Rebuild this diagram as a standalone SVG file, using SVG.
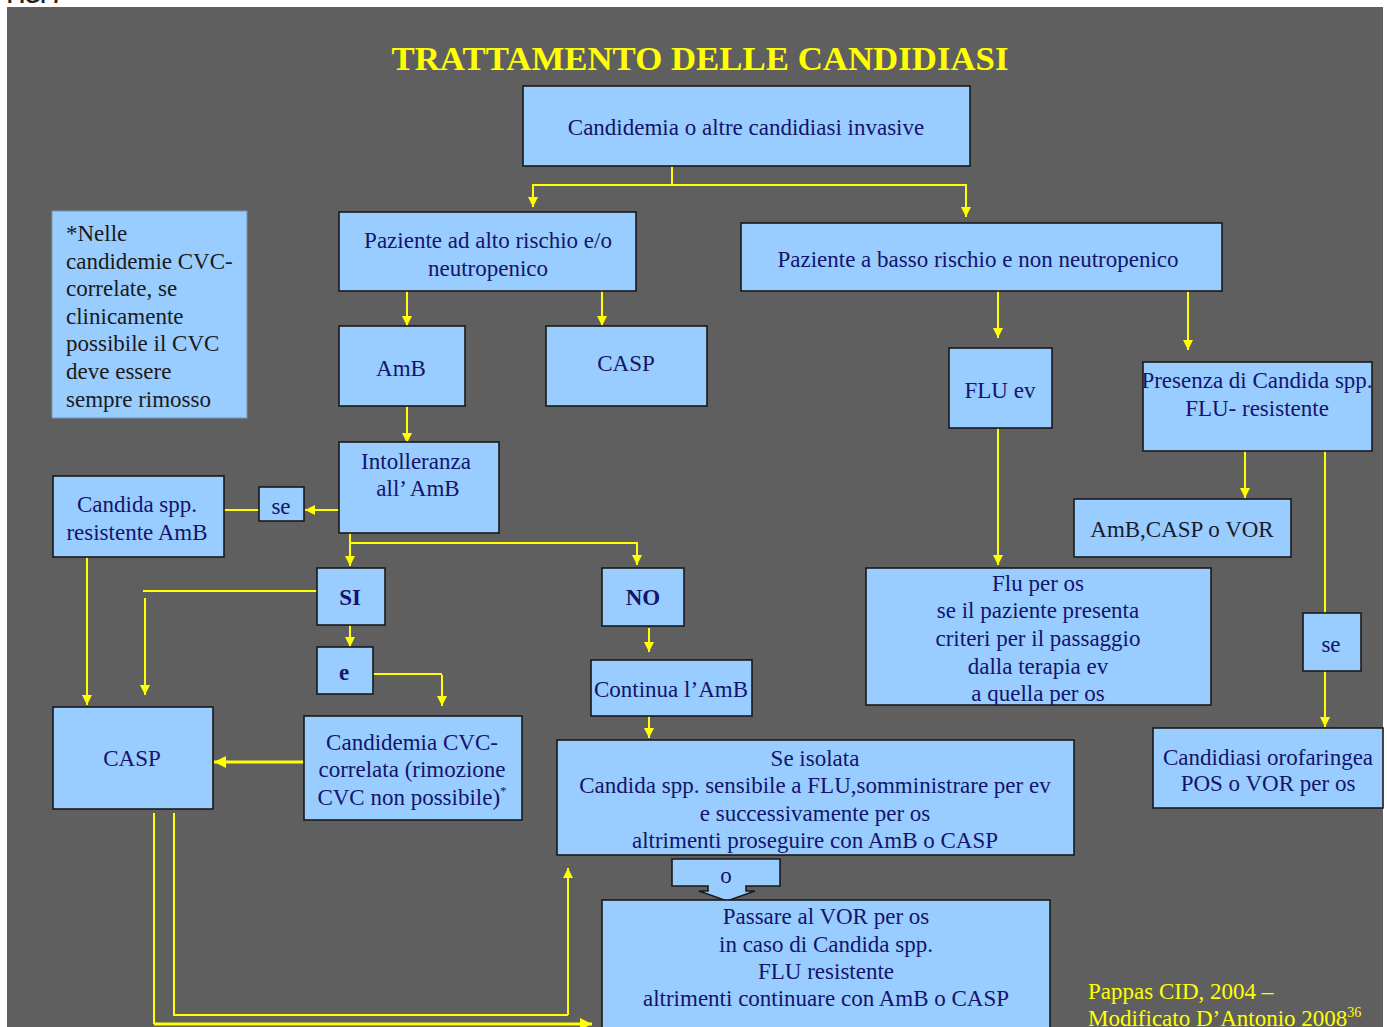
<svg xmlns="http://www.w3.org/2000/svg" width="1387" height="1027" viewBox="0 0 1387 1027">
<defs>
<marker id="ah" viewBox="0 0 10 10" refX="10" refY="5" markerWidth="5" markerHeight="5" orient="auto" markerUnits="strokeWidth">
<path d="M0,0 L10,5 L0,10 Z" fill="#ffff00"/>
</marker>
<marker id="ah2" viewBox="0 0 10 10" refX="10" refY="5" markerWidth="4" markerHeight="4" orient="auto" markerUnits="strokeWidth">
<path d="M0,0 L10,5 L0,10 Z" fill="#ffff00"/>
</marker>
<style>
.b{fill:#99ccff;stroke:#1a1a1a;stroke-width:1.6}
.n{fill:#99ccff;stroke:#7a94ad;stroke-width:1}
.t{font-family:"Liberation Serif","Times New Roman",serif;font-size:23px;fill:#14146b;text-anchor:middle}
.tb{font-weight:bold}
.k{fill:#1a1a2a}
.nt{font-family:"Liberation Serif","Times New Roman",serif;font-size:23px;fill:#1a1a1a}
.c{fill:none;stroke:#ffff00;stroke-width:2}
.ca{fill:none;stroke:#ffff00;stroke-width:2;marker-end:url(#ah)}
.cw{fill:none;stroke:#ffff00;stroke-width:3;marker-end:url(#ah2)}
.y{font-family:"Liberation Serif","Times New Roman",serif;fill:#ffff00}
</style>
</defs>
<rect x="0" y="0" width="1387" height="1027" fill="#ffffff"/>
<text x="7" y="3" font-family="Liberation Sans, Arial, sans-serif" font-size="20" font-weight="bold" fill="#222">FIG. 7</text>
<rect x="7" y="7" width="1376" height="1020" fill="#5f5f5f"/>
<text class="y" x="700" y="70" font-size="34" font-weight="bold" text-anchor="middle" textLength="617" lengthAdjust="spacingAndGlyphs">TRATTAMENTO DELLE CANDIDIASI</text>

<g id="connectors">
<path class="c" d="M672,166 V185"/>
<path class="ca" d="M672,185 H533 V207"/>
<path class="ca" d="M672,185 H966 V217"/>
<path class="ca" d="M407,291 V326"/>
<path class="ca" d="M602,291 V326"/>
<path class="ca" d="M998,291 V338"/>
<path class="ca" d="M1188,291 V350"/>
<path class="ca" d="M407,406 V443"/>
<path class="ca" d="M339,510 H305"/>
<path class="c" d="M224,510 H259"/>
<path class="ca" d="M350,533 V566"/>
<path class="ca" d="M350,543 H637 V565"/>
<path class="ca" d="M87,557 V705"/>
<path class="c" d="M317,591 H143"/>
<path class="ca" d="M145,598 V695"/>
<path class="ca" d="M350,625 V647"/>
<path class="c" d="M373,674 H442"/>
<path class="ca" d="M442,675 V706"/>
<path class="ca" d="M649,628 V652"/>
<path class="ca" d="M649,716 V738"/>
<path class="cw" d="M304,762 H214"/>
<path class="ca" d="M998,428 V565"/>
<path class="ca" d="M1245,451 V498"/>
<path class="c" d="M1325,451 V613"/>
<path class="ca" d="M1325,671 V727"/>
<path class="c" d="M174,813 V1015 H568"/>
<path class="ca" d="M568,1015 V868"/>
<path class="c" d="M154,813 V1024"/>
<path class="cw" d="M154,1024 H592"/>
</g>

<g id="n1"><rect class="b" x="523" y="86" width="447" height="80"/><text class="t" x="746" y="135">Candidemia o altre candidiasi invasive</text></g>
<g id="n2"><rect class="b" x="339" y="212" width="297" height="79"/><text class="t" x="488" y="248">Paziente ad alto rischio e/o</text><text class="t" x="488" y="276">neutropenico</text></g>
<g id="n3"><rect class="b" x="741" y="223" width="481" height="68"/><text class="t" x="978" y="267">Paziente a basso rischio e non neutropenico</text></g>
<g id="n4"><rect class="b" x="339" y="326" width="126" height="80"/><text class="t" x="401" y="376">AmB</text></g>
<g id="n5"><rect class="b" x="546" y="326" width="161" height="80"/><text class="t" x="626" y="371">CASP</text></g>
<g id="n6"><rect class="b" x="949" y="348" width="103" height="80"/><text class="t" x="1000" y="398">FLU ev</text></g>
<g id="n7"><rect class="b" x="1143" y="362" width="229" height="89"/><text class="t" x="1257" y="388">Presenza di Candida spp.</text><text class="t" x="1257" y="416">FLU- resistente</text></g>
<g id="note"><rect class="n" x="52" y="211" width="195" height="207"/>
<text class="nt" x="66" y="241">*Nelle</text>
<text class="nt" x="66" y="269">candidemie CVC-</text>
<text class="nt" x="66" y="296">correlate, se</text>
<text class="nt" x="66" y="324">clinicamente</text>
<text class="nt" x="66" y="351">possibile il CVC</text>
<text class="nt" x="66" y="379">deve essere</text>
<text class="nt" x="66" y="407">sempre rimosso</text></g>
<g id="n8"><rect class="b" x="339" y="442" width="160" height="91"/><text class="t" x="416" y="469">Intolleranza</text><text class="t" x="418" y="496">all’ AmB</text></g>
<g id="n9"><rect class="b" x="259" y="487" width="45" height="34"/><text class="t" x="281" y="514">se</text></g>
<g id="n10"><rect class="b" x="53" y="476" width="171" height="81"/><text class="t" x="137" y="512">Candida spp.</text><text class="t" x="137" y="540">resistente AmB</text></g>
<g id="n11"><rect class="b" x="1074" y="499" width="217" height="58"/><text class="t k" x="1182" y="537">AmB,CASP o VOR</text></g>
<g id="n12"><rect class="b" x="317" y="568" width="68" height="57"/><text class="t tb" x="350" y="605">SI</text></g>
<g id="n13"><rect class="b" x="602" y="568" width="82" height="58"/><text class="t tb" x="643" y="605">NO</text></g>
<g id="n14"><rect class="b" x="317" y="647" width="56" height="47"/><text class="t tb" x="344" y="680">e</text></g>
<g id="n15"><rect class="b" x="591" y="660" width="161" height="56"/><text class="t" x="671" y="697">Continua l’AmB</text></g>
<g id="n16"><rect class="b" x="866" y="568" width="345" height="137"/>
<text class="t" x="1038" y="591">Flu per os</text>
<text class="t" x="1038" y="618">se il paziente presenta</text>
<text class="t" x="1038" y="646">criteri per il passaggio</text>
<text class="t" x="1038" y="674">dalla terapia ev</text>
<text class="t" x="1038" y="701">a quella per os</text></g>
<g id="n17"><rect class="b" x="1303" y="613" width="58" height="58"/><text class="t" x="1331" y="652">se</text></g>
<g id="n18"><rect class="b" x="1153" y="728" width="230" height="80"/><text class="t" x="1268" y="765">Candidiasi orofaringea</text><text class="t" x="1268" y="791">POS o VOR per os</text></g>
<g id="n19"><rect class="b" x="53" y="707" width="160" height="102"/><text class="t" x="132" y="766">CASP</text></g>
<g id="n20"><rect class="b" x="304" y="716" width="218" height="104"/>
<text class="t" x="412" y="750">Candidemia CVC-</text>
<text class="t" x="412" y="777">correlata (rimozione</text>
<text class="t" x="412" y="805">CVC non possibile)<tspan font-size="13" dy="-10">*</tspan></text></g>
<g id="n21"><rect class="b" x="557" y="740" width="517" height="115"/>
<text class="t" x="815" y="766">Se isolata</text>
<text class="t" x="815" y="793">Candida spp. sensibile a FLU,somministrare per ev</text>
<text class="t" x="815" y="821">e successivamente per os</text>
<text class="t" x="815" y="848">altrimenti proseguire con AmB o CASP</text></g>
<g id="n22"><path class="b" d="M672,859 H780 V886 H746 V891 H755 L727,901 L699,891 H708 V886 H672 Z"/><text class="t" x="726" y="883">o</text></g>
<g id="n23"><rect class="b" x="602" y="900" width="448" height="140"/>
<text class="t" x="826" y="924">Passare al VOR per os</text>
<text class="t" x="826" y="952">in caso di Candida spp.</text>
<text class="t" x="826" y="979">FLU resistente</text>
<text class="t" x="826" y="1006">altrimenti continuare con AmB o CASP</text></g>
<g id="footer">
<text class="y" x="1088" y="999" font-size="23">Pappas CID, 2004 –</text>
<text class="y" x="1088" y="1026" font-size="23">Modificato D’Antonio 2008<tspan font-size="14" dy="-9">36</tspan></text>
</g>
</svg>
